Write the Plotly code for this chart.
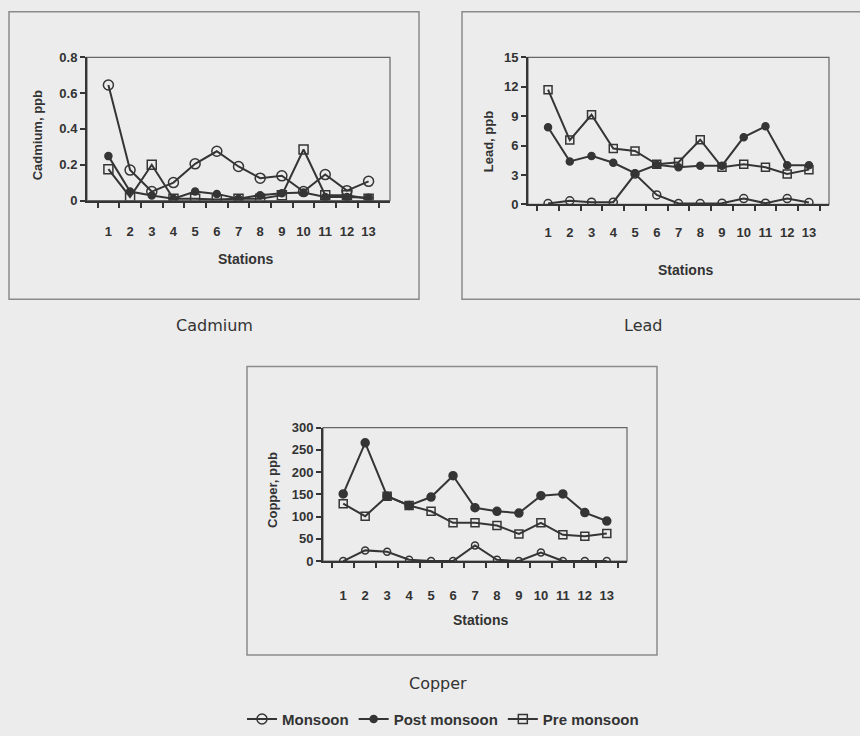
import plotly.graph_objects as go

stations = [str(i) for i in range(1, 14)]
series_names = ["Monsoon", "Post monsoon", "Pre monsoon"]

cd_monsoon = [0.645, 0.17, 0.05, 0.10, 0.205, 0.275, 0.19, 0.125, 0.138, 0.05, 0.145, 0.055, 0.107]
cd_post = [0.248, 0.05, 0.028, 0.01, 0.05, 0.037, 0.01, 0.03, 0.04, 0.045, 0.02, 0.02, 0.015]
cd_pre = [0.175, 0.02, 0.20, 0.01, 0.01, 0.005, 0.01, 0.01, 0.03, 0.285, 0.03, 0.03, 0.01]

pb_monsoon = [0.1, 0.37, 0.23, 0.23, 3.1, 0.97, 0.1, 0.1, 0.13, 0.6, 0.13, 0.6, 0.2]
pb_post = [7.87, 4.39, 4.95, 4.25, 3.18, 4.05, 3.8, 3.95, 3.95, 6.86, 7.97, 4.0, 4.0]
pb_pre = [11.7, 6.56, 9.14, 5.7, 5.46, 4.1, 4.3, 6.6, 3.8, 4.1, 3.8, 3.1, 3.55]

cu_monsoon = [0, 24, 21, 3, 0, 0, 35, 3, 0, 19, 0, 0, 0]
cu_post = [151, 266, 146, 125, 144, 192, 120, 112, 108, 147, 151, 109, 90]
cu_pre = [129, 101, 146, 125, 112, 86, 86, 80, 61, 86, 59, 56, 62]

W, H = 860, 736
LINE = "#353535"
BG = "#ececec"
FONT = "Liberation Sans, Arial, sans-serif"


def px_x(a, b):
    return [a / W, b / W]


def px_y(top, bottom):
    return [1 - bottom / H, 1 - top / H]


fig = go.Figure()

panels = [
    ("", (cd_monsoon, cd_post, cd_pre), [0, 0.8], 0.2, px_x(87, 390), px_y(58, 203), (10, 7, 9), 18),
    ("2", (pb_monsoon, pb_post, pb_pre), [0, 15], 3, px_x(528, 829), px_y(58, 207), (8, 7, 8), 15),
    ("3", (cu_monsoon, cu_post, cu_pre), [0, 300], 50, px_x(323, 627), px_y(433, 568), (7, 8, 8), 21),
]

symbols = ["circle-open", "circle", "square-open"]

for k, (suf, data, yr, dt, xd, yd, msz, standoff) in enumerate(panels):
    xa = "x" + suf
    ya = "y" + suf
    for i, (name, vals) in enumerate(zip(series_names, data)):
        fig.add_trace(go.Scatter(
            x=stations, y=vals, mode="lines+markers", name=name,
            xaxis=xa, yaxis=ya, showlegend=(k == 0), legendgroup=name,
            line=dict(color=LINE, width=2),
            marker=dict(symbol=symbols[i], size=msz[i], color=LINE,
                        line=dict(color=LINE, width=1.5)),
        ))
    xkey = "xaxis" + suf
    ykey = "yaxis" + suf
    fig.layout[xkey] = dict(
        domain=xd, anchor=ya, type="category", tickson="boundaries",
        ticks="outside", ticklen=5, tickcolor=LINE, tickwidth=1.5,
        showline=True, linecolor=LINE, linewidth=2, showgrid=False,
        zeroline=False, ticklabelstandoff=standoff, tickangle=0,
        tickfont=dict(family=FONT, size=13, color="#333", weight="bold"),
        automargin=False, fixedrange=True,
    )
    fig.layout[ykey] = dict(
        domain=yd, anchor=xa, range=yr, dtick=dt, ticks="outside",
        ticklen=5, tickcolor=LINE, tickwidth=1.5, showline=True,
        linecolor=LINE, linewidth=2, showgrid=False, zeroline=False,
        tickfont=dict(family=FONT, size=13, color="#333", weight="bold"),
        automargin=False, fixedrange=True,
    )
    fig.add_shape(type="rect", xref=xa + " domain", yref=ya + " domain",
                  x0=0, x1=1, y0=0, y1=1, line=dict(color="#666", width=1.2),
                  layer="below")

for (x0, y0, x1, y1) in [(9, 12, 419, 303), (462, 12, 866, 303), (247, 371, 657, 663)]:
    fig.add_shape(type="rect", xref="paper", yref="paper",
                  x0=x0 / W, x1=x1 / W, y0=1 - y1 / H, y1=1 - y0 / H,
                  line=dict(color="#8a8a8a", width=1.5))

annots = [
    ("Cadmium, ppb", 37, 137, -90, 13),
    ("Stations", 246, 262, 0, 14),
    ("Lead, ppb", 488, 143, -90, 13),
    ("Stations", 685, 273, 0, 14),
    ("Copper, ppb", 273, 496, -90, 13),
    ("Stations", 480, 628, 0, 14),
]
for text, x, y, ang, size in annots:
    fig.add_annotation(text=text, x=x / W, y=1 - y / H, xref="paper", yref="paper",
                       showarrow=False, textangle=ang, xanchor="center", yanchor="middle",
                       font=dict(family=FONT, size=size, color="#333", weight="bold"))

for text, x, y in [("Cadmium", 214, 330), ("Lead", 643, 330), ("Copper", 438, 692)]:
    fig.add_annotation(text=text, x=x / W, y=1 - y / H, xref="paper", yref="paper",
                       showarrow=False, xanchor="center", yanchor="middle",
                       font=dict(family="DejaVu Sans, sans-serif", size=16, color="#333"))

fig.update_layout(
    width=W, height=H, autosize=False,
    margin=dict(l=0, r=0, t=0, b=0),
    paper_bgcolor=BG, plot_bgcolor=BG,
    showlegend=True,
    legend=dict(orientation="h", x=443 / W, xanchor="center", y=-0.012,
                yanchor="bottom", bgcolor="rgba(0,0,0,0)",
                font=dict(family=FONT, size=15, color="#333", weight="bold"),
                itemwidth=30, tracegroupgap=0),
)

fig.write_html("out.html", config={"displayModeBar": False},
               post_script="document.body.style.margin='0';document.body.style.background='#ececec';")
